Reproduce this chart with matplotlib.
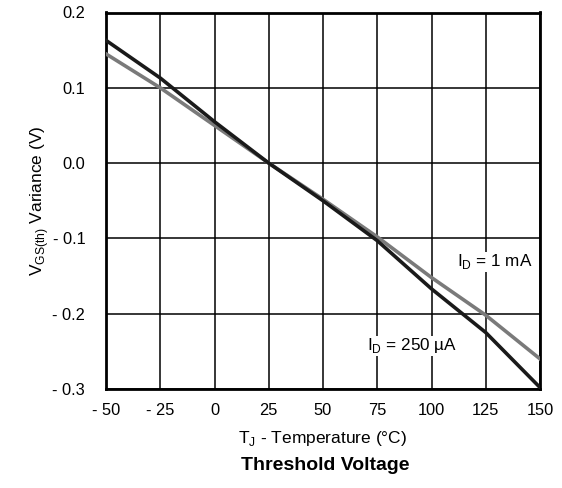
import matplotlib.pyplot as plt

plt.rcParams['font.family'] = ['Liberation Sans', 'DejaVu Sans']

temps = [-50, -25, 0, 25, 50, 75, 100, 125, 150]
v_250uA = [0.163, 0.113, 0.055, 0.0, -0.05, -0.103, -0.167, -0.225, -0.298]
v_1mA = [0.145, 0.100, 0.050, 0.0, -0.048, -0.098, -0.152, -0.202, -0.260]
xticks = [-50, -25, 0, 25, 50, 75, 100, 125, 150]
yticks = [0.2, 0.1, 0.0, -0.1, -0.2, -0.3]

def fmt(v, dec):
    s = ("%." + str(dec) + "f") % abs(v)
    return ("- " + s) if v < 0 else s

fig = plt.figure(figsize=(5.62, 4.88), dpi=100)
ax = fig.add_axes([106/562, 1-389/488, (540-106)/562, (389-12.5)/488])

ax.plot(temps, v_1mA, color='#7a7a7a', lw=2.6, zorder=3)
ax.plot(temps, v_250uA, color='#1a1a1a', lw=2.6, zorder=4)

ax.set_xlim(-50, 150)
ax.set_ylim(-0.3, 0.2)
ax.set_xticks(xticks)
ax.set_yticks(yticks)
ax.set_xticklabels([fmt(t, 0) for t in xticks], fontsize=11.8)
ax.set_yticklabels([fmt(v, 1) for v in yticks], fontsize=11.8)
ax.tick_params(axis='x', length=0, pad=10)
ax.tick_params(axis='y', length=0, pad=15)
ax.grid(True, color='black', lw=1.1)
for s in ax.spines.values():
    s.set_linewidth(2)
    s.set_color('black')

ax.text(0.895, 0.338, r'I$_\mathregular{D}$ = 1 mA', transform=ax.transAxes,
        fontsize=12.3, ha='center', va='center',
        bbox=dict(facecolor='white', edgecolor='none', pad=0.5), zorder=5)
ax.text(0.705, 0.115, r'I$_\mathregular{D}$ = 250 µA', transform=ax.transAxes,
        fontsize=12.3, ha='center', va='center',
        bbox=dict(facecolor='white', edgecolor='none', pad=0.5), zorder=5)

ax.set_xlabel(r'T$_\mathregular{J}$ - Temperature (°C)', fontsize=12.5, labelpad=8)
ax.set_ylabel(r'V$_\mathregular{GS(th)}$ Variance (V)', fontsize=12.5, labelpad=1)
fig.text(325/562, 1-465/488, 'Threshold Voltage', fontsize=14, fontweight='bold',
         ha='center', va='center')

fig.savefig('out.png', dpi=100)
